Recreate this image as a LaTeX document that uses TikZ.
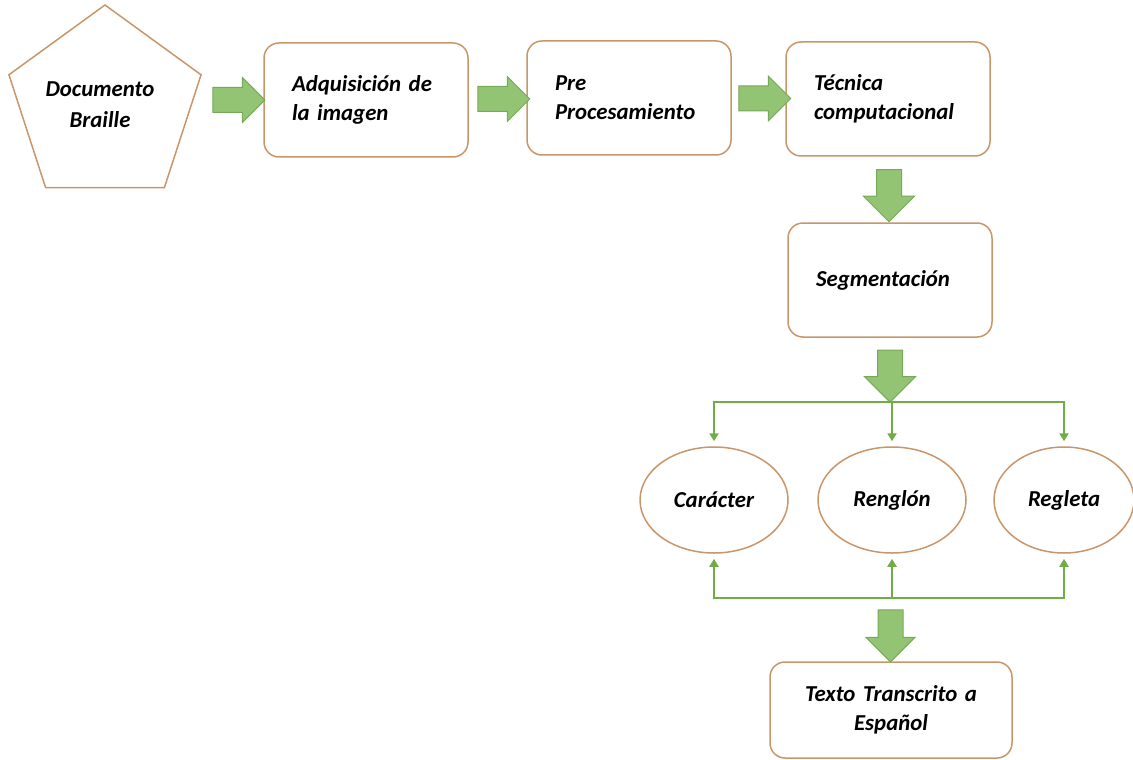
\documentclass[tikz,border=0pt]{standalone}
\usepackage{fontspec}
\setmainfont{Carlito}
\usetikzlibrary{shapes.geometric,shapes.arrows,arrows.meta,calc}
\definecolor{boxline}{RGB}{200,150,105}
\definecolor{flowfill}{RGB}{146,196,116}
\definecolor{flowdraw}{RGB}{118,170,88}
\definecolor{linkgreen}{RGB}{112,173,71}

\begin{document}
\begin{tikzpicture}[x=0.5pt,y=-0.5pt,
  font=\fontsize{11.4}{14.5}\selectfont\bfseries\itshape,
  stage/.style={draw=boxline,line width=0.75pt,rounded corners=7.5pt,
    minimum height=57pt,text width=74pt,inner xsep=14pt,align=left},
  part/.style={ellipse,draw=boxline,line width=0.75pt,minimum width=74pt,
    minimum height=53pt,inner sep=0pt},
  flowright/.style={single arrow,draw=flowdraw,fill=flowfill,line width=0.5pt,
    inner sep=6pt,single arrow head extend=5pt,minimum height=26pt},
  flowdown/.style={flowright,rotate=-90,single arrow head extend=6.5pt},
  link/.style={draw=linkgreen,line width=1.25pt},
  tip/.style={-{Triangle[length=4pt,width=4.5pt]},shorten >=2.5pt}]

\useasboundingbox (0,0) rectangle (1133,759);

% top row
\node[regular polygon,regular polygon sides=5,minimum size=101pt,
  draw=boxline,line width=0.75pt,inner sep=0pt,align=center] (doc) at (105,106)
  {\raisebox{5pt}{\hspace{-5pt}\begin{tabular}{@{}c@{}}Documento\\[1pt]Braille\end{tabular}}};
\node[stage] (adq) at (366,100) {Adquisición de\\ la imagen};
\node[stage] (pre) at (629,98) {Pre\\ Procesamiento};
\node[stage] (tec) at (888,99) {Técnica\\ computacional};

\node[flowright] (a1) at ($(doc.corner 5 |- adq.west)!0.5!(adq.west)$) {};
\node[flowright] (a2) at ($(adq.east)!0.5!(pre.west)$) {};
\node[flowright] (a3) at ($(pre.east)!0.5!(tec.west)$) {};

% segmentation
\node[stage] (seg) at (890,280) {Segmentación};
\node[flowdown] (a4) at ($(tec.south)!0.5!(seg.north)$) {};

\node[part] (car) at (714,500) {Carácter};
\node[part] (ren) at (892,500) {Renglón};
\node[part,minimum width=70pt] (reg) at (1064,500) {Regleta};

\coordinate (fork) at (890,402);
\coordinate (join) at (890,598);
\node[flowdown] (a5) at ($(seg.south)!0.5!(fork)$) {};

\draw[link,line cap=rect] (car.north |- fork) -- (reg.north |- fork);
\foreach \n in {car,ren,reg}
  \draw[link,tip] (\n.north |- fork) -- (\n.north);
\draw[link,line cap=rect] (car.south |- join) -- (reg.south |- join);
\foreach \n in {car,ren,reg}
  \draw[link,tip] (\n.south |- join) -- (\n.south);

% result
\node[stage,text width=93pt,minimum height=48pt,align=center] (txt) at (891,710)
  {Texto Transcrito a\\ Español};
\node[flowdown,single arrow head extend=6pt] (a6) at ($(join)!0.5!(txt.north)$) {};

\end{tikzpicture}
\end{document}
